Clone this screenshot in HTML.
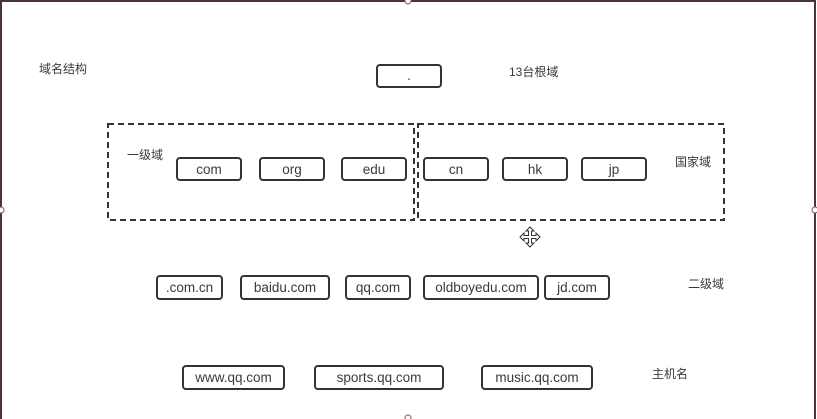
<!DOCTYPE html>
<html><head><meta charset="utf-8"><style>
html,body{margin:0;padding:0;background:#fff;}
svg{display:block;}
text{font-family:"Liberation Sans","Noto Sans CJK SC",sans-serif;font-size:13.5px;fill:#3a3a3a;}
text.c{font-size:12px;}
.b{fill:#fff;stroke:#333;stroke-width:2;}
.d{fill:none;stroke:#333;stroke-width:2;stroke-dasharray:6,4;}
</style></head><body>
<svg width="817" height="419" viewBox="0 0 817 419" xmlns="http://www.w3.org/2000/svg">
<path d="M1,419 V1 H815 V419" fill="none" stroke="#4a3535" stroke-width="2"/>
<circle cx="408" cy="1" r="3" fill="#fff" stroke="#8a5555"/>
<circle cx="1" cy="210" r="3" fill="#fff" stroke="#8a5555"/>
<circle cx="815" cy="210" r="3" fill="#fff" stroke="#8a5555"/>
<circle cx="408" cy="418" r="3" fill="#fff" stroke="#8a5555"/>

<rect class="d" x="108" y="124" width="306" height="96"/>
<rect class="d" x="418" y="124" width="306" height="96"/>

<g text-anchor="middle">
<rect class="b" x="377" y="65" width="64" height="22" rx="3"/><text x="409" y="80">.</text>
<rect class="b" x="177" y="158" width="64" height="22" rx="3"/><text x="209" y="174">com</text>
<rect class="b" x="260" y="158" width="64" height="22" rx="3"/><text x="292" y="174">org</text>
<rect class="b" x="342" y="158" width="64" height="22" rx="3"/><text x="374" y="174">edu</text>
<rect class="b" x="424" y="158" width="64" height="22" rx="3"/><text x="456" y="174">cn</text>
<rect class="b" x="503" y="158" width="64" height="22" rx="3"/><text x="535" y="174">hk</text>
<rect class="b" x="582" y="158" width="64" height="22" rx="3"/><text x="614" y="174">jp</text>

<rect class="b" x="157" y="276" width="65" height="23" rx="3"/><text x="189.5" y="292">.com.cn</text>
<rect class="b" x="241" y="276" width="88" height="23" rx="3"/><text x="285" y="292">baidu.com</text>
<rect class="b" x="346" y="276" width="64" height="23" rx="3"/><text x="378" y="292">qq.com</text>
<rect class="b" x="424" y="276" width="114" height="23" rx="3"/><text x="481" y="292">oldboyedu.com</text>
<rect class="b" x="545" y="276" width="64" height="23" rx="3"/><text x="577" y="292">jd.com</text>

<rect class="b" x="183" y="366" width="101" height="23" rx="3"/><text x="233.5" y="382">www.qq.com</text>
<rect class="b" x="315" y="366" width="128" height="23" rx="3"/><text x="379" y="382">sports.qq.com</text>
<rect class="b" x="482" y="366" width="110" height="23" rx="3"/><text x="537" y="382">music.qq.com</text>
</g>

<text class="c" x="39" y="73">域名结构</text>
<text class="c" x="509" y="76">13台根域</text>
<text class="c" x="127" y="159">一级域</text>
<text class="c" x="675" y="166">国家域</text>
<text class="c" x="688" y="288">二级域</text>
<text class="c" x="652" y="378">主机名</text>

<g transform="translate(530,237)" fill="#fff" stroke="#333" stroke-width="1">
<path d="M0,-10 L4,-6 L1.5,-6 L1.5,-1.5 L6,-1.5 L6,-4 L10,0 L6,4 L6,1.5 L1.5,1.5 L1.5,6 L4,6 L0,10 L-4,6 L-1.5,6 L-1.5,1.5 L-6,1.5 L-6,4 L-10,0 L-6,-4 L-6,-1.5 L-1.5,-1.5 L-1.5,-6 L-4,-6 Z"/>
</g>
</svg>
</body></html>
